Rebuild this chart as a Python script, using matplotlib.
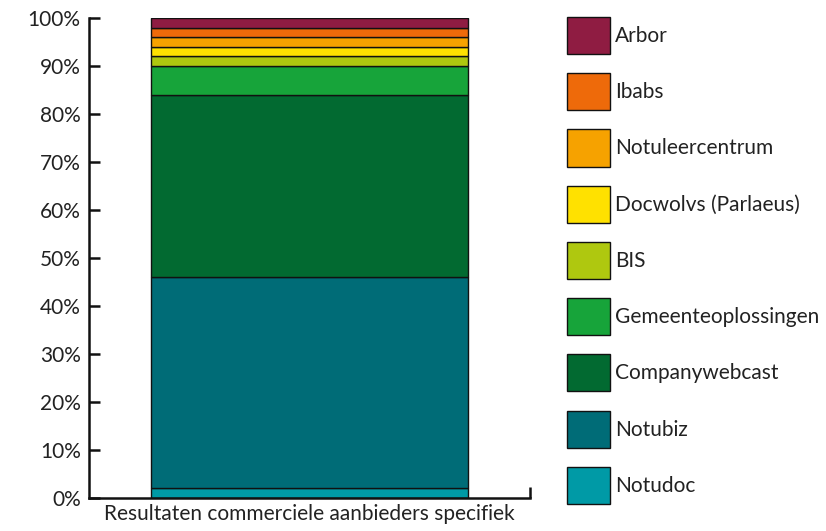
import matplotlib.pyplot as plt
from matplotlib.ticker import PercentFormatter

# Gegevens (aandeel in %, van onder naar boven)
categorie = "Resultaten commerciele aanbieders specifiek"
aanbieders = ["Notudoc", "Notubiz", "Companywebcast", "Gemeenteoplossingen", "BIS",
              "Docwolvs (Parlaeus)", "Notuleercentrum", "Ibabs", "Arbor"]
aandelen = [2, 44, 38, 6, 2, 2, 2, 2, 2]
kleuren = ["#009AA6", "#006C77", "#026A31", "#17A43A", "#AFC80F",
           "#FFE100", "#F6A200", "#EE6A0A", "#8F1C42"]

plt.rcParams["font.family"] = ["Lato", "DejaVu Sans"]
plt.rcParams["text.color"] = "#222222"

fig = plt.figure(figsize=(8.26, 5.31), dpi=100)
ax = fig.add_axes([89 / 826, 33 / 531, 441 / 826, 480 / 531])

# Gestapelde balk
onder = 0
for naam, waarde, kleur in zip(aanbieders, aandelen, kleuren):
    ax.bar(0, waarde, bottom=onder, width=0.72, color=kleur,
           edgecolor="#111111", linewidth=1, label=naam)
    onder += waarde

ax.set_xlim(-0.5, 0.5)
ax.set_ylim(0, 100)
ax.set_yticks(range(0, 101, 10))
ax.yaxis.set_major_formatter(PercentFormatter(decimals=0))
ax.set_xticks([0])
ax.set_xticklabels([categorie])
ax.set_xticks([0.5], minor=True)

for kant in ["top", "right"]:
    ax.spines[kant].set_visible(False)
for kant in ["left", "bottom"]:
    ax.spines[kant].set_linewidth(1.8)
    ax.spines[kant].set_color("#111111")

ax.tick_params(axis="y", direction="in", length=8, width=1.8, labelsize=15,
               pad=6, colors="#111111", labelcolor="#222222")
ax.tick_params(axis="x", which="major", length=0, labelsize=15, pad=4,
               labelcolor="#222222")
ax.tick_params(axis="x", which="minor", direction="in", length=8, width=1.8,
               colors="#111111")

# Legenda (bovenste segment eerst)
handles, labels = ax.get_legend_handles_labels()
fig.legend(handles[::-1], labels[::-1], loc="upper left",
           bbox_to_anchor=(567 / 826, 1 - 17 / 531), frameon=False,
           fontsize=15, handlelength=2.05, handleheight=2.36,
           labelspacing=0.92, handletextpad=0.25, borderpad=0, borderaxespad=0)

plt.savefig("out.png", dpi=100)
